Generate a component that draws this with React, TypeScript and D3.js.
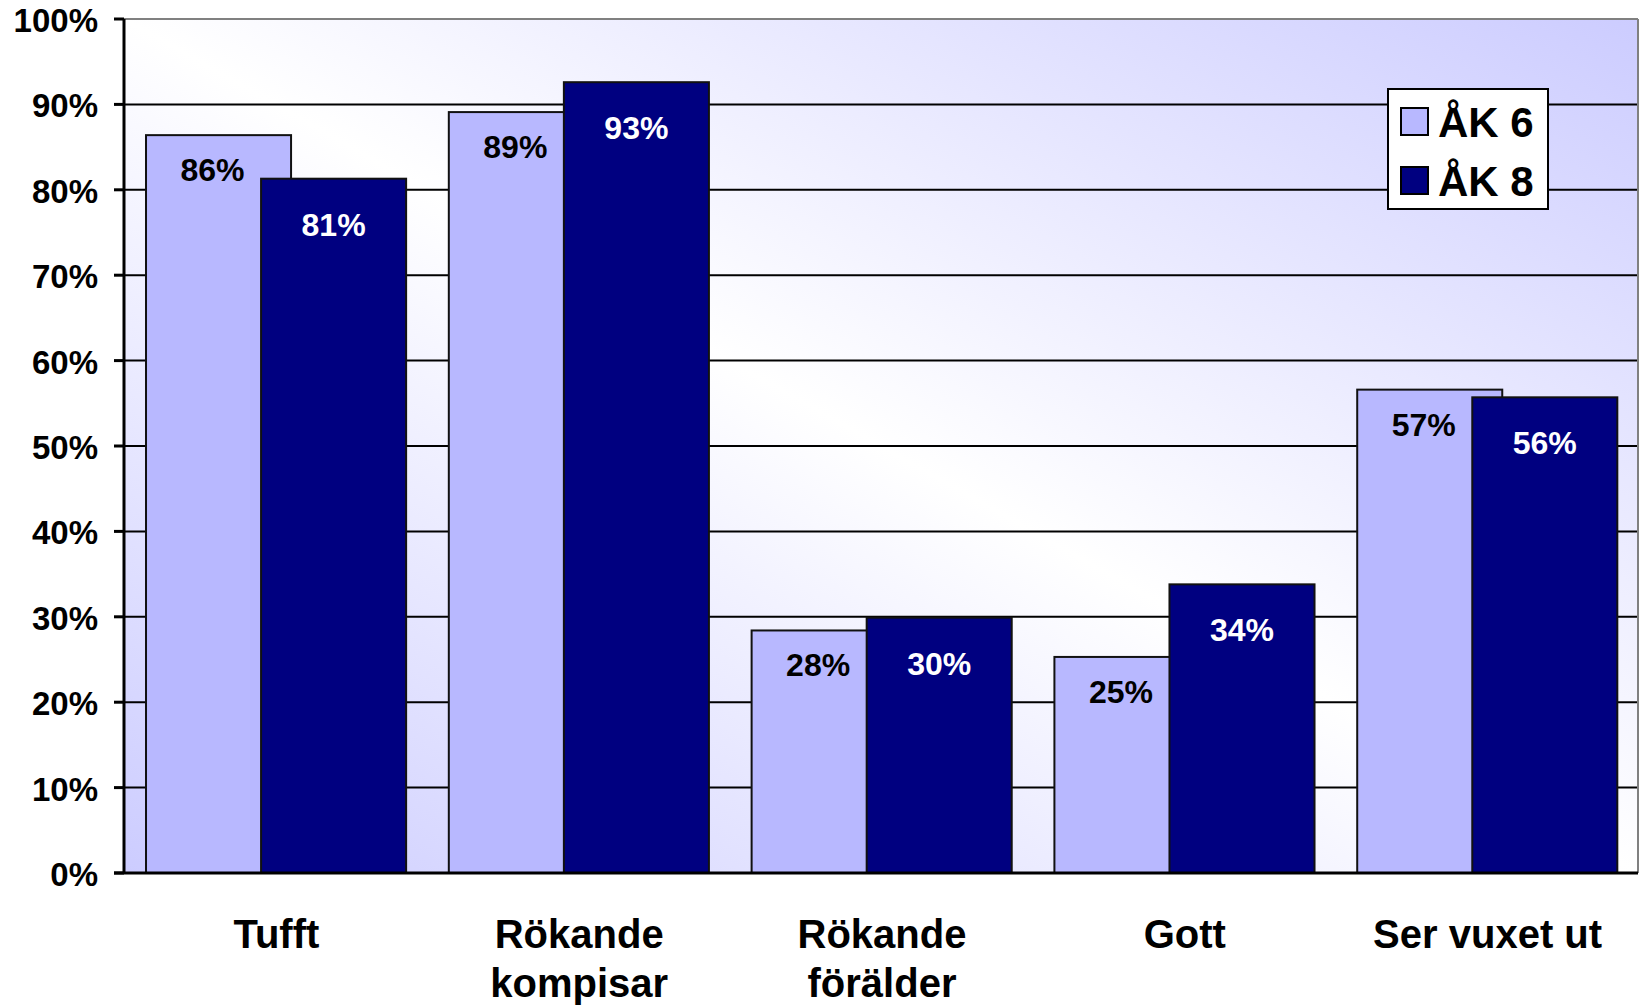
import React from "react";
import * as d3 from "d3";

// categories and values
const categories = ["Tufft", "Rökande kompisar", "Rökande förälder", "Gott", "Ser vuxet ut"];
const categoryLines = [["Tufft"], ["Rökande", "kompisar"], ["Rökande", "förälder"], ["Gott"], ["Ser vuxet ut"]];
const seriesNames = ["ÅK 6", "ÅK 8"];
const ak6 = [86.4, 89.1, 28.4, 25.3, 56.6];
const ak8 = [81.3, 92.6, 29.9, 33.8, 55.7];
const yTicks = [0, 10, 20, 30, 40, 50, 60, 70, 80, 90, 100];

const W = 1641;
const H = 1006;
const left = 124;
const right = 1638;
const top = 19;
const bottom = 873;

const lightFill = "#b8b8ff";
const darkFill = "#000080";
const font = "'Liberation Sans', Arial, sans-serif";

export default function App() {
  const x = d3.scaleBand<string>().domain(categories).range([left, right]);
  const y = d3.scaleLinear().domain([0, 100]).range([bottom, top]);
  const bw = x.bandwidth();
  const barW = bw * 0.479;
  const off6 = bw * 0.0727;
  const off8 = off6 + bw * 0.38;

  // label nudges: light labels sit a little left of the bar centre
  const series = [
    { name: seriesNames[0], values: ak6, fill: lightFill, off: off6, text: "#000", dx: -6, dy: 46 },
    { name: seriesNames[1], values: ak8, fill: darkFill, off: off8, text: "#fff", dx: 0, dy: 57 },
  ];

  return (
    <svg
      width={W}
      height={H}
      style={{ position: "absolute", left: 0, top: 0, background: "#fff" }}
      fontFamily={font}
      fontWeight="bold"
    >
      <defs>
        <linearGradient id="plotbg" x1="0" y1="1" x2="1" y2="0">
          <stop offset="0" stopColor="#ccccff" />
          <stop offset="0.5" stopColor="#ffffff" />
          <stop offset="1" stopColor="#ccccff" />
        </linearGradient>
      </defs>

      <rect x={left} y={top} width={right - left} height={bottom - top} fill="url(#plotbg)" />

      {/* gridlines */}
      {yTicks.slice(1, -1).map((t) => (
        <line key={t} x1={left} x2={right} y1={y(t)} y2={y(t)} stroke="#000" strokeWidth={2} />
      ))}
      <line x1={left} x2={right} y1={top} y2={top} stroke="#808080" strokeWidth={2} />
      <line x1={right} x2={right} y1={top} y2={bottom} stroke="#808080" strokeWidth={2} />

      {/* bars */}
      {series.map((s) =>
        s.values.map((v, i) => (
          <rect
            key={s.name + i}
            x={(x(categories[i]) as number) + s.off}
            y={y(v)}
            width={barW}
            height={y(0) - y(v)}
            fill={s.fill}
            stroke="#111"
            strokeWidth={2}
          />
        ))
      )}

      {/* value labels */}
      {series.map((s) =>
        s.values.map((v, i) => (
          <text
            key={"l" + s.name + i}
            x={(x(categories[i]) as number) + s.off + barW / 2 + s.dx}
            y={y(v) + s.dy}
            textAnchor="middle"
            fontSize={32}
            fill={s.text}
          >
            {Math.round(v)}%
          </text>
        ))
      )}

      {/* axes */}
      <line x1={left} x2={left} y1={top} y2={bottom + 1} stroke="#000" strokeWidth={3} />
      <line x1={left - 10} x2={right} y1={bottom} y2={bottom} stroke="#000" strokeWidth={3} />
      {yTicks.map((t) => (
        <g key={"t" + t}>
          <line x1={left - 10} x2={left} y1={y(t)} y2={y(t)} stroke="#000" strokeWidth={3} />
          <text x={98} y={y(t) + 13} textAnchor="end" fontSize={33} fill="#000">
            {t}%
          </text>
        </g>
      ))}

      {/* category labels */}
      {categoryLines.map((lines, i) => (
        <text
          key={"c" + i}
          x={(x(categories[i]) as number) + bw / 2}
          y={948}
          textAnchor="middle"
          fontSize={40}
          fill="#000"
        >
          {lines.map((ln, j) => (
            <tspan key={j} x={(x(categories[i]) as number) + bw / 2 + 1} dy={j === 0 ? 0 : 49}>
              {ln}
            </tspan>
          ))}
        </text>
      ))}

      {/* legend */}
      <g>
        <rect x={1388} y={89} width={160} height={120} fill="#fff" stroke="#000" strokeWidth={2} />
        {series.map((s, i) => (
          <g key={"lg" + i} transform={`translate(1401,${108 + i * 59})`}>
            <rect width={27} height={27} fill={s.fill} stroke="#000" strokeWidth={2} />
            <text x={37} y={29} fontSize={42} fill="#000">
              {s.name}
            </text>
          </g>
        ))}
      </g>
    </svg>
  );
}
